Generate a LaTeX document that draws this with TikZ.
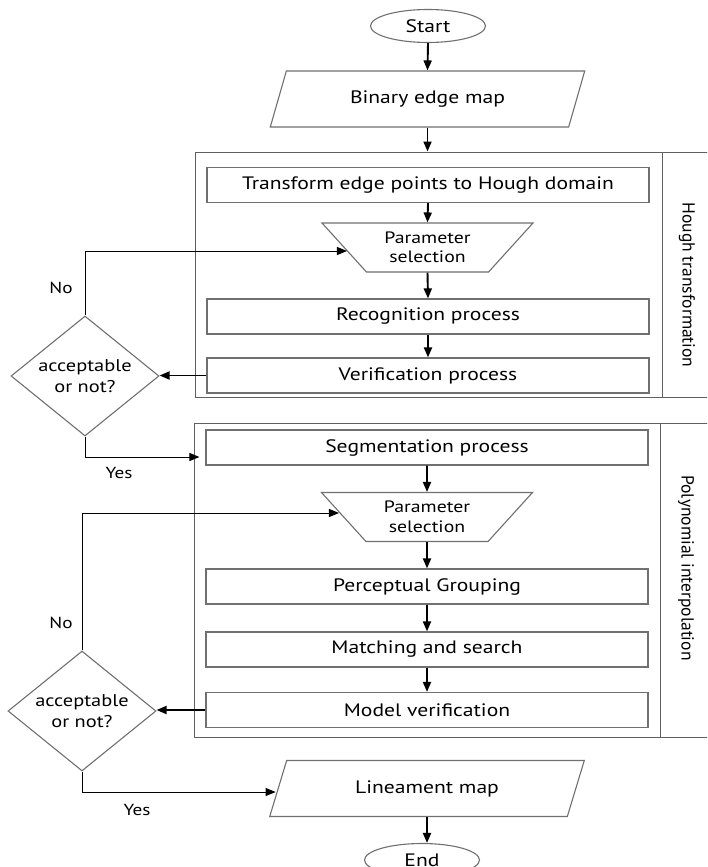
\documentclass[tikz,border=0pt]{standalone}
\usepackage{fontspec}
\setmainfont{PT Sans}
\newfontfamily\widefont{PT Sans}[FakeStretch=1.2]
\usetikzlibrary{shapes.geometric,arrows.meta,calc}
\definecolor{boxgray}{HTML}{707070}
\definecolor{grpgray}{HTML}{606060}
\begin{document}
\begin{tikzpicture}[x=1pt,y=-1pt,
  mainfont/.style={font=\widefont\fontsize{18}{20}\selectfont},
  smallfont/.style={font=\widefont\fontsize{16.5}{19.5}\selectfont},
  decfont/.style={font=\widefont\fontsize{17}{20.5}\selectfont},
  procbox/.style={draw=boxgray, line width=1.2pt, minimum width=442pt, minimum height=35pt, inner sep=0pt, mainfont},
  paramtrap/.style={draw=boxgray, line width=1.1pt, trapezium, trapezium left angle=135, trapezium right angle=135, trapezium stretches=true, minimum width=211pt, minimum height=49pt, inner sep=0pt, align=center, smallfont},
  iobox/.style={draw=boxgray, line width=1.1pt, trapezium, trapezium left angle=62, trapezium right angle=118, trapezium stretches=true, minimum width=315pt, minimum height=56pt, inner sep=0pt, mainfont},
  termnode/.style={draw=boxgray, line width=1.1pt, ellipse, minimum width=115pt, minimum height=33pt, inner sep=0pt, mainfont},
  decide/.style={draw=boxgray, line width=1.1pt, diamond, aspect=1.23, minimum width=148pt, minimum height=120pt, inner sep=0pt, align=center, decfont},
  groupbox/.style={draw=grpgray, line width=1pt, inner sep=0pt},
  sidelabel/.style={rotate=-90, font=\rmfamily\fontsize{17.5}{20}\selectfont},
  lbl/.style={font=\widefont\fontsize{16}{19}\selectfont},
  arr/.style={-{Triangle[length=10pt,width=8pt]}, line width=1.9pt, black},
  loop/.style={-{Triangle[length=10pt,width=8pt]}, line width=1pt, black}
]
\useasboundingbox (0,0) rectangle (707,867);
\clip (0,0) rectangle (707,867);
\fill[white] (0,0) rectangle (707,867);

% group boxes
\node[groupbox, minimum width=513pt, minimum height=245pt] (hough) at (451.5,274.5) {};
\draw[grpgray, line width=1pt] (662,152) -- (662,397);
\node[sidelabel] (houghlbl) at (687,285) {Hough transformation};

\node[groupbox, minimum width=514pt, minimum height=314pt] (poly) at (451,580) {};
\draw[grpgray, line width=1pt] (660,423) -- (660,737);
\node[sidelabel] (polylbl) at (686,568) {Polynomial interpolation};

% main column
\node[termnode] (start) at (428,26) {Start};
\node[iobox] (bin) at (427.5,99) {Binary edge map};
\node[procbox] (tr) at (428,185) {Transform edge points to Hough domain};
\node[paramtrap] (par1) at (427.5,247.5) {Parameter\\selection};
\node[procbox] (rec) at (428,316.5) {Recognition process};
\node[procbox] (ver) at (428,375.5) {Verification process};
\node[decide] (d1) at (85,376) {acceptable\\or not?};

\node[procbox] (seg) at (427,447.5) {Segmentation process};
\node[paramtrap] (par2) at (427,517) {Parameter\\selection};
\node[procbox] (per) at (427,586.5) {Perceptual Grouping};
\node[procbox] (mat) at (427,649.5) {Matching and search};
\node[procbox] (mod) at (427,710) {Model verification};
\node[decide] (d2) at (82,711) {acceptable\\or not?};

\node[iobox] (lin) at (427,788.5) {Lineament map};
\node[termnode] (end) at (422,860) {End};

% connectors
\draw[arr] (start.south) -- (bin.north);
\draw[arr] (bin.south) -- (bin.south |- hough.north);
\draw[arr] (tr.south) -- (par1.north);
\draw[arr] (par1.south) -- (rec.north);
\draw[arr] (rec.south) -- (ver.north);
\draw[arr] (ver.west) -- (ver.west -| d1.east);
\draw[loop] (d1.north) |- ([xshift=3.5pt,yshift=-3.5pt]par1.west);
\draw[loop] (d1.south) |- ([xshift=-6pt,yshift=-9.5pt]seg.west);

\draw[arr] (seg.south) -- (par2.north);
\draw[arr] (par2.south) -- (per.north);
\draw[arr] (per.south) -- (mat.north);
\draw[arr] (mat.south) -- (mod.north);
\draw[arr] (mod.west) -- (mod.west -| d2.east);
\draw[loop] (d2.north) |- ([xshift=-4pt,yshift=4pt]par2.west);
\draw[loop] (d2.south) |- ([xshift=-2pt,yshift=-3.5pt]lin.west);
\draw[arr] (lin.south) -- (lin.south |- end.north);

% labels
\node[lbl] (no1) at (61,288) {No};
\node[lbl] (yes1) at (119,473) {Yes};
\node[lbl] (no2) at (61,623) {No};
\node[lbl] (yes2) at (137,810) {Yes};
\end{tikzpicture}
\end{document}
